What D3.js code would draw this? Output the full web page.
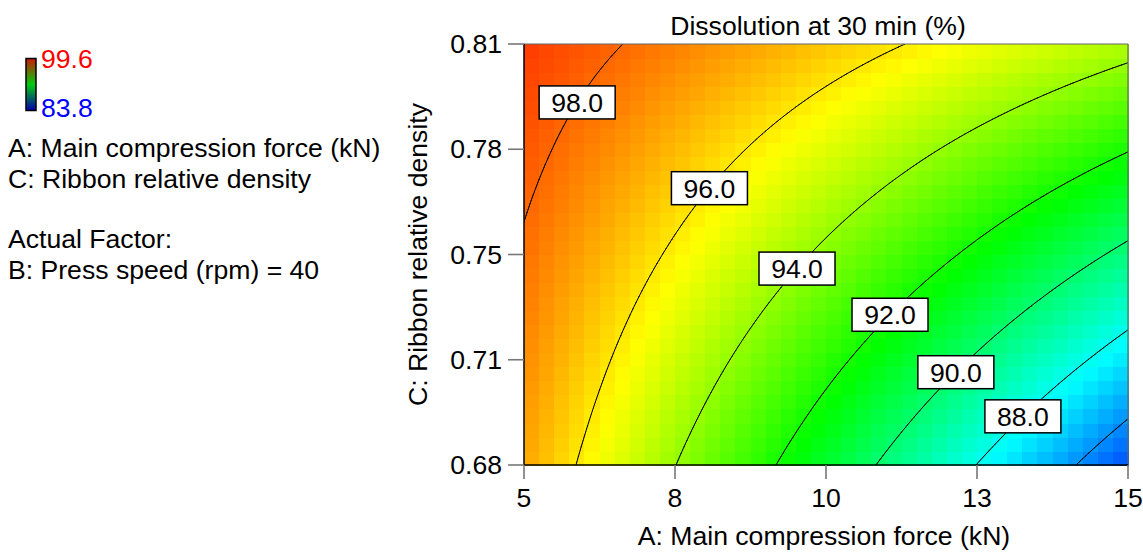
<!DOCTYPE html>
<html><head><meta charset="utf-8">
<script src="https://cdn.jsdelivr.net/npm/d3@7"></script>
<style>
body{margin:0;background:#fff}
svg{display:block}
text{font-family:"Liberation Sans",Arial,Helvetica,sans-serif}
</style>
</head><body>
<svg id="c" width="1143" height="552"></svg>
<script>
// ---------- data ----------
const xGrid = [5, 7.5, 10, 12.5, 15];              // A: Main compression force (kN)
const yGrid = [0.68, 0.7125, 0.745, 0.7775, 0.81]; // C: Ribbon relative density
// Dissolution at 30 min (%) at the grid nodes; rows follow yGrid, columns follow xGrid
const dissolution = [
  [97.04, 94.02, 91.00, 87.98, 84.96],
  [97.46, 94.92, 92.39, 89.86, 87.33],
  [97.87, 95.83, 93.78, 91.74, 89.69],
  [98.29, 96.73, 95.17, 93.61, 92.06],
  [98.70, 97.63, 96.56, 95.49, 94.42]
];
const contourLevels = [86, 88, 90, 92, 94, 96, 98];
const labelLevels = [98, 96, 94, 92, 90, 88];
const labelX = [5.88, 8.07, 9.52, 11.06, 12.15, 13.26];
const xTicks = [5, 7.5, 10, 12.5, 15];
const xTickLabels = ["5", "8", "10", "13", "15"];
const yTicks = [0.68, 0.7125, 0.745, 0.7775, 0.81];
const yTickLabels = ["0.68", "0.71", "0.75", "0.78", "0.81"];
const legendMax = 99.6, legendMin = 83.8;
const titleText = "Dissolution at 30 min (%)";
const xTitle = "A: Main compression force (kN)";
const yTitle = "C: Ribbon relative density";
const legendLines = ["A: Main compression force (kN)", "C: Ribbon relative density", "", "Actual Factor:", "B: Press speed (rpm) = 40"];

// ---------- layout ----------
const FS = 26.6;
const L = 524, R = 1128, T = 44, B = 465;
const svg = d3.select("#c");
const x = d3.scaleLinear().domain([5, 15]).range([L, R]);
const y = d3.scaleLinear().domain([0.68, 0.81]).range([B, T]);

function val(xv, yv) {
  let i = d3.bisectRight(xGrid, xv) - 1; i = Math.max(0, Math.min(xGrid.length - 2, i));
  let j = d3.bisectRight(yGrid, yv) - 1; j = Math.max(0, Math.min(yGrid.length - 2, j));
  const tx = (xv - xGrid[i]) / (xGrid[i + 1] - xGrid[i]);
  const ty = (yv - yGrid[j]) / (yGrid[j + 1] - yGrid[j]);
  const v00 = dissolution[j][i], v10 = dissolution[j][i + 1], v01 = dissolution[j + 1][i], v11 = dissolution[j + 1][i + 1];
  return (1 - ty) * ((1 - tx) * v00 + tx * v10) + ty * ((1 - tx) * v01 + tx * v11);
}

const rng = legendMax - legendMin;
const color = d3.scaleLinear()
  .domain([legendMin, legendMin + 0.25 * rng, legendMin + 0.5 * rng, legendMin + 0.75 * rng, legendMax])
  .range(["#0000ff", "#00ffff", "#00ff00", "#ffff00", "#ff0000"])
  .clamp(true);

// ---------- heat map cells ----------
const nC = 40, nR = 30;
const cells = [];
for (let j = 0; j < nR; j++) for (let i = 0; i < nC; i++) {
  const x0 = 5 + i * 10 / nC, x1 = 5 + (i + 1) * 10 / nC;
  const y0 = 0.68 + j * 0.13 / nR, y1 = 0.68 + (j + 1) * 0.13 / nR;
  cells.push({x0, x1, y0, y1, v: val((x0 + x1) / 2, (y0 + y1) / 2)});
}
svg.append("g").attr("shape-rendering", "crispEdges")
  .selectAll("rect").data(cells).join("rect")
  .attr("x", d => x(d.x0)).attr("y", d => y(d.y1))
  .attr("width", d => x(d.x1) - x(d.x0) + 0.6)
  .attr("height", d => y(d.y0) - y(d.y1) + 0.6)
  .attr("fill", d => color(d.v));

// ---------- contour lines (marching squares on a fine sampling) ----------
const NX = 200, NY = 140;
const gx = d3.range(NX + 1).map(i => 5 + i * 10 / NX);
const gy = d3.range(NY + 1).map(j => 0.68 + j * 0.13 / NY);
const grid = gy.map(yy => gx.map(xx => val(xx, yy)));
const cg = svg.append("g").attr("clip-path", "url(#plotclip)");
svg.append("clipPath").attr("id", "plotclip").append("rect").attr("x", L).attr("y", T).attr("width", R - L).attr("height", B - T);
contourLevels.forEach(lv => {
  let d = "";
  for (let j = 0; j < NY; j++) for (let i = 0; i < NX; i++) {
    const c = [[gx[i], gy[j], grid[j][i]], [gx[i + 1], gy[j], grid[j][i + 1]], [gx[i + 1], gy[j + 1], grid[j + 1][i + 1]], [gx[i], gy[j + 1], grid[j + 1][i]]];
    const pts = [];
    for (let k = 0; k < 4; k++) {
      const a = c[k], b = c[(k + 1) % 4];
      if ((a[2] < lv) !== (b[2] < lv)) {
        const t = (lv - a[2]) / (b[2] - a[2]);
        pts.push([x(a[0] + t * (b[0] - a[0])), y(a[1] + t * (b[1] - a[1]))]);
      }
    }
    for (let k = 0; k + 1 < pts.length; k += 2)
      d += `M${pts[k][0].toFixed(2)},${pts[k][1].toFixed(2)}L${pts[k + 1][0].toFixed(2)},${pts[k + 1][1].toFixed(2)}`;
  }
  cg.append("path").attr("d", d).attr("fill", "none").attr("stroke", "#000").attr("stroke-width", 1).attr("stroke-linecap", "round");
});

// ---------- frame & axes ----------
svg.append("line").attr("x1", L).attr("x2", R).attr("y1", T).attr("y2", T).attr("stroke", "#666").attr("stroke-width", 1.2);
svg.append("line").attr("x1", R).attr("x2", R).attr("y1", T).attr("y2", B).attr("stroke", "#666").attr("stroke-width", 1.2);
svg.append("line").attr("x1", L).attr("x2", L).attr("y1", T).attr("y2", B).attr("stroke", "#000").attr("stroke-width", 1.5);
svg.append("line").attr("x1", L).attr("x2", R).attr("y1", B).attr("y2", B).attr("stroke", "#000").attr("stroke-width", 1.5);

const xa = svg.append("g");
xTicks.forEach((t, k) => {
  xa.append("line").attr("x1", x(t)).attr("x2", x(t)).attr("y1", B).attr("y2", B + 14).attr("stroke", "#777").attr("stroke-width", 1.6);
  xa.append("text").attr("x", x(t)).attr("y", 507).attr("text-anchor", "middle").attr("font-size", FS).text(xTickLabels[k]);
});
const ya = svg.append("g");
yTicks.forEach((t, k) => {
  ya.append("line").attr("x1", L - 16).attr("x2", L).attr("y1", y(t)).attr("y2", y(t)).attr("stroke", "#777").attr("stroke-width", 1.6);
  ya.append("text").attr("x", 502).attr("y", y(t) + 9).attr("text-anchor", "end").attr("font-size", FS).text(yTickLabels[k]);
});

svg.append("text").attr("x", 818).attr("y", 35).attr("text-anchor", "middle").attr("font-size", FS).text(titleText);
svg.append("text").attr("x", (L + R) / 2 - 2).attr("y", 545).attr("text-anchor", "middle").attr("font-size", FS).text(xTitle);
svg.append("text").attr("transform", `translate(427,${(T + B) / 2}) rotate(-90)`).attr("text-anchor", "middle").attr("font-size", FS).text(yTitle);

// ---------- contour labels ----------
const lg = svg.append("g");
labelLevels.forEach((lv, k) => {
  const xv = labelX[k];
  let lo = 0.68, hi = 0.81;
  for (let it = 0; it < 60; it++) { const m = (lo + hi) / 2; if (val(xv, m) < lv) lo = m; else hi = m; }
  const cx = x(xv), cy = y((lo + hi) / 2);
  lg.append("rect").attr("x", cx - 38).attr("y", cy - 16.5).attr("width", 76).attr("height", 33)
    .attr("fill", "#fff").attr("stroke", "#000").attr("stroke-width", 1.5);
  lg.append("text").attr("x", cx).attr("y", cy + 9.5).attr("text-anchor", "middle").attr("font-size", FS).text(lv.toFixed(1));
});

// ---------- legend ----------
const defs = svg.append("defs");
const grad = defs.append("linearGradient").attr("id", "lgd").attr("x1", 0).attr("x2", 0).attr("y1", 0).attr("y2", 1);
[["0%", "#cc1a00"], ["50%", "#00cc10"], ["100%", "#0000b0"]].forEach(s => grad.append("stop").attr("offset", s[0]).attr("stop-color", s[1]));
svg.append("rect").attr("x", 26).attr("y", 58.5).attr("width", 10).attr("height", 52).attr("fill", "url(#lgd)").attr("stroke", "#000").attr("stroke-width", 1.5);
svg.append("text").attr("x", 41).attr("y", 68).attr("font-size", FS).attr("fill", "#ff0000").text(legendMax.toFixed(1));
svg.append("text").attr("x", 41).attr("y", 117).attr("font-size", FS).attr("fill", "#0000ff").text(legendMin.toFixed(1));
const lineY = [157, 188, 218, 248, 279];
legendLines.forEach((s, k) => { if (s) svg.append("text").attr("x", 8).attr("y", lineY[k]).attr("font-size", FS).text(s); });
</script>
</body></html>
